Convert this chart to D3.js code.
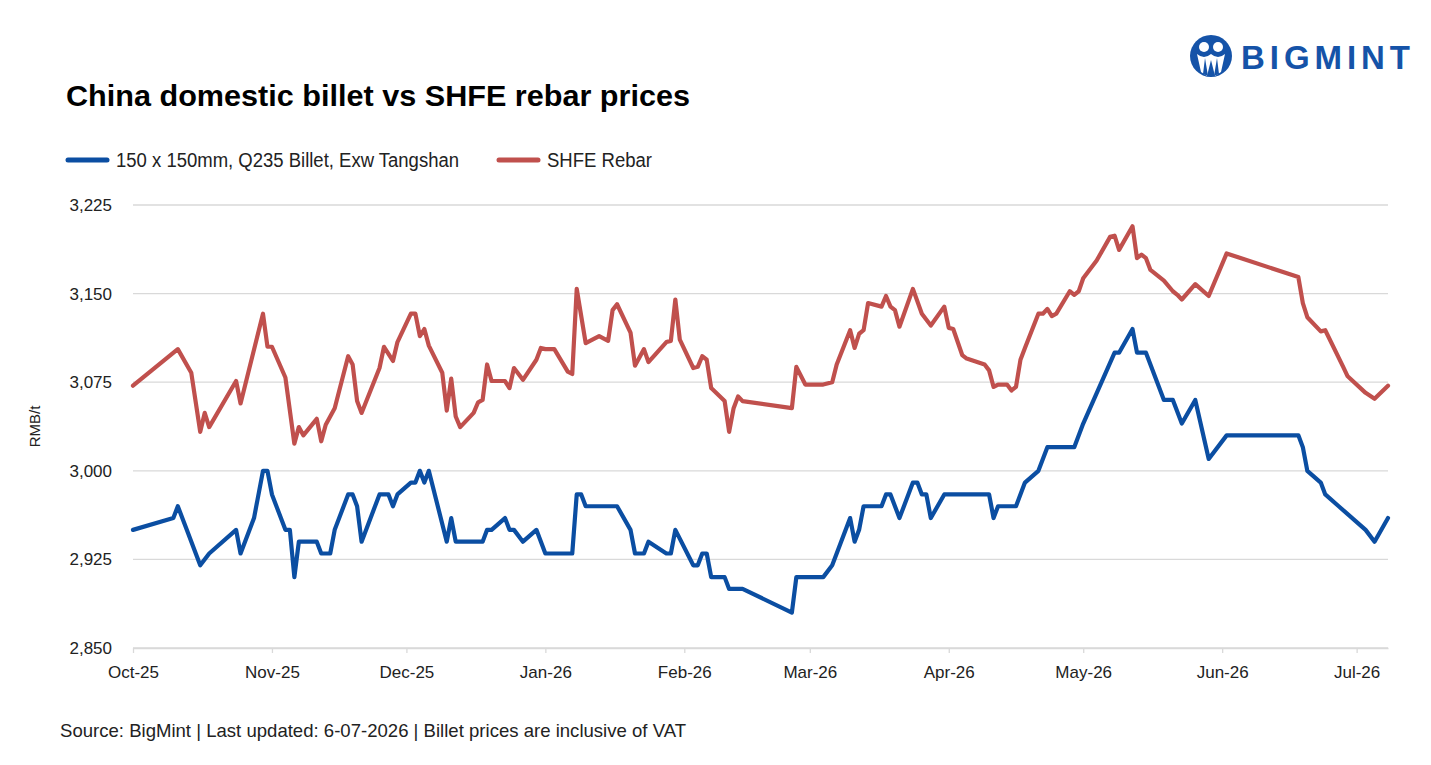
<!DOCTYPE html>
<html>
<head>
<meta charset="utf-8">
<script src="https://cdn.jsdelivr.net/npm/d3@7"></script>
<style>
  body { margin: 0; background: #fff; }
  svg { display: block; font-family: "Liberation Sans", Arial, sans-serif; }
</style>
</head>
<body>
<svg id="chart" width="1431" height="765"></svg>
<script>
// billet, 150 x 150mm Q235, exw Tangshan
const billetDates = ['2025-10-01','2025-10-10','2025-10-11','2025-10-13','2025-10-16','2025-10-18','2025-10-24','2025-10-25','2025-10-28','2025-10-30',
  '2025-10-31','2025-11-01','2025-11-04','2025-11-05','2025-11-06','2025-11-07','2025-11-11','2025-11-12','2025-11-14','2025-11-15',
  '2025-11-18','2025-11-19','2025-11-20','2025-11-21','2025-11-25','2025-11-27','2025-11-28','2025-11-29','2025-12-02','2025-12-03',
  '2025-12-04','2025-12-05','2025-12-06','2025-12-10','2025-12-11','2025-12-12','2025-12-18','2025-12-19','2025-12-20','2025-12-23',
  '2025-12-24','2025-12-25','2025-12-27','2025-12-30','2026-01-01','2026-01-07','2026-01-08','2026-01-09','2026-01-10','2026-01-17',
  '2026-01-20','2026-01-21','2026-01-23','2026-01-24','2026-01-28','2026-01-29','2026-01-30','2026-02-03','2026-02-04','2026-02-05',
  '2026-02-06','2026-02-07','2026-02-10','2026-02-11','2026-02-14','2026-02-25','2026-02-26','2026-03-04','2026-03-06','2026-03-10',
  '2026-03-11','2026-03-12','2026-03-13','2026-03-17','2026-03-18','2026-03-19','2026-03-21','2026-03-24','2026-03-25','2026-03-26',
  '2026-03-27','2026-03-28','2026-03-31','2026-04-10','2026-04-11','2026-04-12','2026-04-16','2026-04-18','2026-04-21','2026-04-23',
  '2026-04-29','2026-05-01','2026-05-08','2026-05-09','2026-05-12','2026-05-13','2026-05-15','2026-05-19','2026-05-21','2026-05-23',
  '2026-05-26','2026-05-29','2026-06-02','2026-06-18','2026-06-19','2026-06-20','2026-06-23','2026-06-24','2026-06-27','2026-07-03',
  '2026-07-05','2026-07-08'];
const billetValues = [2950,2960,2970,2950,2920,2930,2950,2930,2960,3000,
  3000,2980,2950,2950,2910,2940,2940,2930,2930,2950,
  2980,2980,2970,2940,2980,2980,2970,2980,2990,2990,
  3000,2990,3000,2940,2960,2940,2940,2950,2950,2960,
  2950,2950,2940,2950,2930,2930,2980,2980,2970,2970,
  2950,2930,2930,2940,2930,2930,2950,2920,2920,2930,
  2930,2910,2910,2900,2900,2880,2910,2910,2920,2960,
  2940,2950,2970,2970,2980,2980,2960,2990,2990,2980,
  2980,2960,2980,2980,2960,2970,2970,2990,3000,3020,
  3020,3040,3100,3100,3120,3100,3100,3060,3060,3040,
  3060,3010,3030,3030,3020,3000,2990,2980,2970,2950,
  2940,2960];

// SHFE rebar
const rebarDates = ['2025-10-01','2025-10-11','2025-10-14','2025-10-16','2025-10-17','2025-10-18','2025-10-24','2025-10-25','2025-10-30','2025-10-31',
  '2025-11-01','2025-11-04','2025-11-06','2025-11-07','2025-11-08','2025-11-11','2025-11-12','2025-11-13','2025-11-15','2025-11-18',
  '2025-11-19','2025-11-20','2025-11-21','2025-11-25','2025-11-26','2025-11-28','2025-11-29','2025-12-02','2025-12-03','2025-12-04',
  '2025-12-05','2025-12-06','2025-12-09','2025-12-10','2025-12-11','2025-12-12','2025-12-13','2025-12-16','2025-12-17','2025-12-18',
  '2025-12-19','2025-12-20','2025-12-23','2025-12-24','2025-12-25','2025-12-27','2025-12-30','2025-12-31','2026-01-01','2026-01-03',
  '2026-01-06','2026-01-07','2026-01-08','2026-01-10','2026-01-13','2026-01-15','2026-01-16','2026-01-17','2026-01-20','2026-01-21',
  '2026-01-23','2026-01-24','2026-01-28','2026-01-29','2026-01-30','2026-01-31','2026-02-03','2026-02-04','2026-02-05','2026-02-06',
  '2026-02-07','2026-02-10','2026-02-11','2026-02-12','2026-02-13','2026-02-14','2026-02-25','2026-02-26','2026-02-28','2026-03-04',
  '2026-03-06','2026-03-07','2026-03-10','2026-03-11','2026-03-12','2026-03-13','2026-03-14','2026-03-17','2026-03-18','2026-03-19',
  '2026-03-20','2026-03-21','2026-03-24','2026-03-26','2026-03-28','2026-03-31','2026-04-01','2026-04-02','2026-04-04','2026-04-05',
  '2026-04-09','2026-04-10','2026-04-11','2026-04-12','2026-04-14','2026-04-15','2026-04-16','2026-04-17','2026-04-18','2026-04-21',
  '2026-04-22','2026-04-23','2026-04-24','2026-04-25','2026-04-28','2026-04-29','2026-04-30','2026-05-01','2026-05-04','2026-05-07',
  '2026-05-08','2026-05-09','2026-05-12','2026-05-13','2026-05-14','2026-05-15','2026-05-16','2026-05-19','2026-05-21','2026-05-22',
  '2026-05-23','2026-05-26','2026-05-29','2026-06-02','2026-06-18','2026-06-19','2026-06-20','2026-06-23','2026-06-24','2026-06-28',
  '2026-06-29','2026-07-03','2026-07-05','2026-07-08'];
const rebarValues = [3072,3103,3083,3033,3049,3037,3076,3057,3133,3105,
  3105,3079,3023,3037,3030,3044,3025,3039,3053,3097,
  3090,3059,3049,3087,3105,3093,3109,3133,3133,3114,
  3120,3106,3083,3051,3078,3046,3037,3049,3058,3060,
  3090,3076,3076,3070,3087,3077,3094,3104,3103,3103,
  3084,3082,3154,3108,3114,3110,3136,3141,3117,3089,
  3103,3092,3109,3110,3145,3111,3087,3088,3097,3094,
  3070,3059,3033,3053,3063,3059,3053,3088,3073,3073,
  3075,3090,3119,3104,3116,3119,3142,3139,3148,3139,
  3136,3122,3154,3133,3123,3139,3121,3120,3098,3095,
  3090,3085,3071,3073,3073,3068,3071,3094,3104,3133,
  3133,3137,3131,3133,3152,3149,3152,3163,3178,3198,
  3199,3187,3207,3180,3183,3180,3170,3161,3152,3149,
  3145,3158,3148,3184,3164,3142,3130,3118,3119,3088,
  3080,3066,3061,3072];

const yTicks = [2850, 2925, 3000, 3075, 3150, 3225];
const seriesNames = ['150 x 150mm, Q235 Billet, Exw Tangshan', 'SHFE Rebar'];

const BLUE = '#0b4ea2';
const RED = '#c0504d';
const FONT = '"Liberation Sans", Arial, sans-serif';

const parse = d3.timeParse('%Y-%m-%d');
const billet = billetDates.map((d, i) => ({date: parse(d), value: billetValues[i]}));
const rebar = rebarDates.map((d, i) => ({date: parse(d), value: rebarValues[i]}));

const svg = d3.select('#chart');
const plot = {left: 133, right: 1388, top: 205, bottom: 648};

const x = d3.scaleTime()
    .domain(d3.extent(billet.concat(rebar), d => d.date))
    .range([plot.left, plot.right]);
const y = d3.scaleLinear()
    .domain([d3.min(yTicks), d3.max(yTicks)])
    .range([plot.bottom, plot.top]);

// title
svg.append('text')
    .attr('x', 66).attr('y', 106)
    .attr('font-size', 29).attr('font-weight', 'bold')
    .attr('textLength', 624).attr('lengthAdjust', 'spacingAndGlyphs')
    .attr('fill', '#000')
    .text('China domestic billet vs SHFE rebar prices');

// logo
const logo = svg.append('g').attr('transform', 'translate(1211,56)');
logo.append('circle').attr('r', 21).attr('fill', '#1553a8');
logo.append('circle').attr('cx', -7).attr('cy', -9).attr('r', 5).attr('fill', '#fff');
logo.append('circle').attr('cx', 7).attr('cy', -9).attr('r', 5).attr('fill', '#fff');
logo.append('path')
    .attr('d', 'M-14,-2 Q-7,4 0,-2 Q7,4 14,-2 L10,16 L4,20 L0,4 L-4,20 L-10,16 Z')
    .attr('fill', '#fff');
logo.append('path')
    .attr('d', 'M-6,2 L-3,20 L-8,18 Z M6,2 L3,20 L8,18 Z')
    .attr('fill', '#1553a8');
svg.append('text')
    .attr('x', 1241).attr('y', 69)
    .attr('font-size', 33).attr('font-weight', 'bold')
    .attr('textLength', 169).attr('lengthAdjust', 'spacing')
    .attr('fill', '#1553a8')
    .text('BIGMINT');

// legend
const legend = svg.append('g').attr('font-size', 20).attr('fill', '#222');
const legendItems = [
    {name: seriesNames[0], color: BLUE, x: 66, width: 343},
    {name: seriesNames[1], color: RED, x: 497, width: 105}
];
legendItems.forEach(item => {
    legend.append('line')
        .attr('x1', item.x + 2).attr('x2', item.x + 41)
        .attr('y1', 160).attr('y2', 160)
        .attr('stroke', item.color).attr('stroke-width', 5)
        .attr('stroke-linecap', 'round');
    legend.append('text')
        .attr('x', item.x + 50).attr('y', 167)
        .attr('textLength', item.width).attr('lengthAdjust', 'spacingAndGlyphs')
        .text(item.name);
});

// gridlines
svg.append('g')
    .selectAll('line')
    .data(yTicks)
    .enter()
    .append('line')
    .attr('x1', plot.left).attr('x2', plot.right)
    .attr('y1', d => y(d)).attr('y2', d => y(d))
    .attr('stroke', '#d9d9d9').attr('stroke-width', 1.3);

// y axis
const yAxis = svg.append('g')
    .attr('transform', `translate(${plot.left - 18},0)`)
    .call(d3.axisLeft(y).tickValues(yTicks).tickFormat(d3.format(',')).tickSize(0));
yAxis.select('.domain').remove();
yAxis.selectAll('text')
    .attr('font-size', 17).attr('fill', '#222')
    .attr('font-family', FONT);

svg.append('text')
    .attr('transform', `translate(40,${(plot.top + plot.bottom) / 2}) rotate(-90)`)
    .attr('text-anchor', 'middle')
    .attr('font-size', 15).attr('fill', '#222')
    .text('RMB/t');

// x axis
const xAxis = svg.append('g')
    .attr('transform', `translate(0,${plot.bottom})`)
    .call(d3.axisBottom(x)
        .ticks(d3.timeMonth.every(1))
        .tickFormat(d3.timeFormat('%b-%y'))
        .tickSize(5)
        .tickSizeOuter(0));
xAxis.select('.domain').attr('stroke', '#d9d9d9').attr('stroke-width', 1.3);
xAxis.selectAll('.tick line').attr('stroke', '#d9d9d9').attr('stroke-width', 1.3);
xAxis.selectAll('text')
    .attr('dy', 0).attr('y', 30)
    .attr('font-size', 17).attr('fill', '#222')
    .attr('font-family', FONT);

// lines
const line = d3.line()
    .x(d => x(d.date))
    .y(d => y(d.value))
    .curve(d3.curveLinear);

svg.append('path')
    .datum(rebar)
    .attr('d', line)
    .attr('fill', 'none')
    .attr('stroke', RED).attr('stroke-width', 4.2)
    .attr('stroke-linejoin', 'round').attr('stroke-linecap', 'round');

svg.append('path')
    .datum(billet)
    .attr('d', line)
    .attr('fill', 'none')
    .attr('stroke', BLUE).attr('stroke-width', 4.2)
    .attr('stroke-linejoin', 'round').attr('stroke-linecap', 'round');

// footer
svg.append('text')
    .attr('x', 60).attr('y', 737)
    .attr('font-size', 19).attr('fill', '#222')
    .attr('textLength', 626).attr('lengthAdjust', 'spacingAndGlyphs')
    .text('Source: BigMint | Last updated: 6-07-2026 | Billet prices are inclusive of VAT');
</script>
</body>
</html>
